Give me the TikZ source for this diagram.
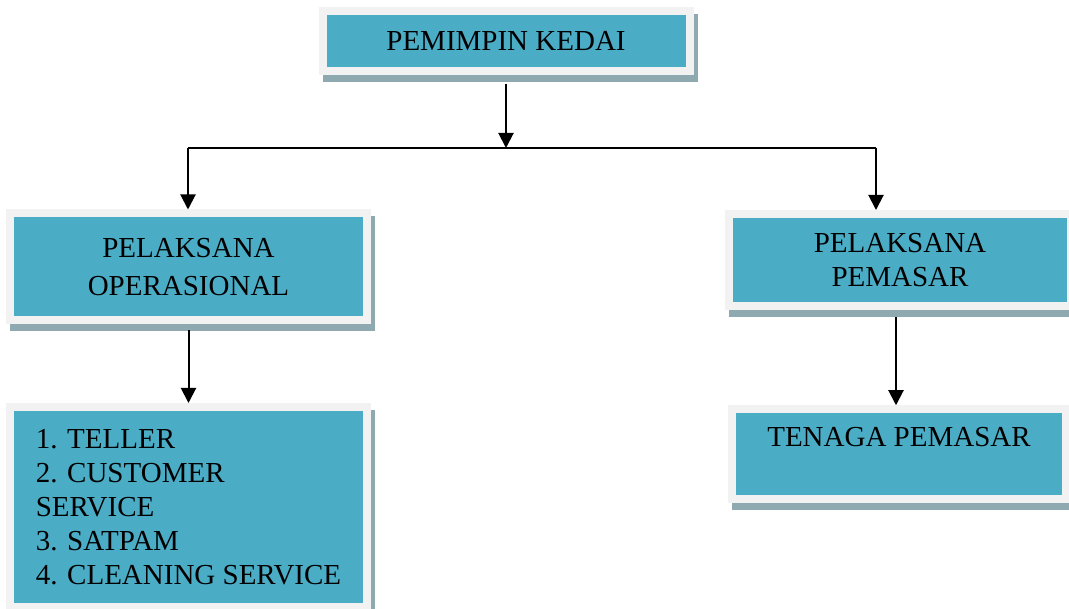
\documentclass[tikz,border=0pt]{standalone}
\usepackage{fontspec}
\setmainfont{Liberation Serif}
\usetikzlibrary{arrows.meta}
\definecolor{boxteal}{HTML}{4BACC6}
\definecolor{boxrim}{HTML}{F2F2F2}
\definecolor{boxshade}{HTML}{8FA9B1}

\begin{document}
\begin{tikzpicture}[x=1pt,y=-1pt]
\tikzstyle{every node}+=[inner sep=0pt]
\tikzstyle{unit}=[draw=boxrim, fill=boxteal, line width=8pt,
  preaction={draw=boxshade, fill=boxshade, line width=8pt,
    transform canvas={shift={(4pt,-7pt)}}},
  font=\fontsize{29}{34}\selectfont, align=center]
\tikzstyle{arr}=[black, line width=2pt, -{Triangle[width=15pt,length=15pt]}]
\useasboundingbox (0,0) rectangle (1069,609);
\node [unit, minimum width=367pt, minimum height=60pt] (kedai) at (506,41) {PEMIMPIN KEDAI};
\node [unit, minimum width=357pt, minimum height=107pt] (opr) at (188.5,267) {PELAKSANA\\[4pt]OPERASIONAL};
\node [unit, minimum width=357pt, minimum height=200pt, align=left] (staf) at (188.5,507) {1. TELLER\\2. CUSTOMER\\SERVICE\\3. SATPAM\\4. CLEANING SERVICE};
\node [unit, minimum width=342pt, minimum height=92pt] (pms) at (900,260) {PELAKSANA\\PEMASAR};
\node [unit, minimum width=334pt, minimum height=89.5pt] (tpm) at (899,454) {TENAGA PEMASAR\\\mbox{}};
\coordinate (mid) at (506,148);
\coordinate (kiri) at (188,148);
\coordinate (kanan) at (876,148);
\draw [arr, shorten <=9pt] (kedai.south) -- (mid);
\draw [black, line width=2pt] (kiri) -- (kanan);
\draw [arr] (kiri) -- (kiri |- opr.north);
\draw [arr] (kanan) -- (kanan |- pms.north);
\draw [arr, shorten <=6pt] (opr.south) -- (staf.north);
\draw [arr, shorten <=7pt] ([xshift=-4pt]pms.south) -- ([xshift=-4pt]pms.south |- tpm.north);
\end{tikzpicture}
\end{document}
